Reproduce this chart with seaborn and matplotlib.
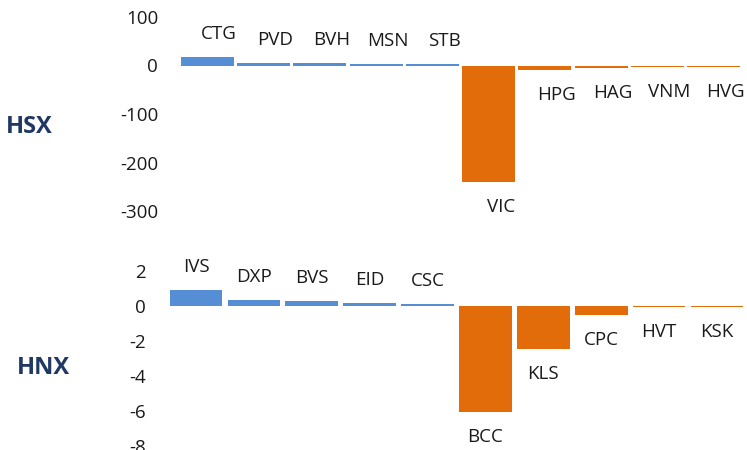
import matplotlib
matplotlib.use("Agg")
import matplotlib.pyplot as plt
import seaborn as sns

# =========================================================
# DATA
# =========================================================
hsx_tickers = ["CTG", "PVD", "BVH", "MSN", "STB", "VIC", "HPG", "HAG", "VNM", "HVG"]
hsx_values = [18, 6, 6, 4, 3.5, -240, -10, -5.5, -2.5, -2.5]
hsx_ticks = [100, 0, -100, -200, -300]

hnx_tickers = ["IVS", "DXP", "BVS", "EID", "CSC", "BCC", "KLS", "CPC", "HVT", "KSK"]
hnx_values = [0.9, 0.33, 0.27, 0.17, 0.1, -6.1, -2.46, -0.52, -0.1, -0.06]
hnx_ticks = [2, 0, -2, -4, -6, -8]

BLUE = "#558ED5"
ORANGE = "#E36C0A"
NAVY = "#1F3864"

sns.set_style("white")
plt.rcParams["font.family"] = ["Open Sans", "DejaVu Sans"]
plt.rcParams["axes.unicode_minus"] = False


# =========================================================
# ONE EXCHANGE PANEL
# =========================================================
def draw_panel(ax, tickers, values, ticks, name, name_xy, bar_width, label_dx):

    colors = [BLUE if v >= 0 else ORANGE for v in values]

    sns.barplot(
        x=tickers, y=values, hue=tickers, palette=colors,
        legend=False, width=bar_width, saturation=1, linewidth=0, ax=ax
    )

    for i, v in enumerate(values):
        dy = 23 if v >= 0 else -25
        ax.annotate(
            tickers[i], (i, v),
            xytext=(label_dx, dy), textcoords="offset pixels",
            ha="center", va="center", fontsize=13.5, color="#1a1a1a"
        )

    ax.set_ylim(ticks[-1], ticks[0])
    ax.set_xlim(-0.5, len(tickers) - 0.5)
    ax.set_yticks(ticks)
    ax.set_yticklabels([str(t) for t in ticks])
    ax.tick_params(axis="y", length=0, pad=15, labelsize=13.5, labelcolor="#1a1a1a")
    ax.set_xticks([])
    ax.set_xlabel("")
    ax.set_ylabel("")
    sns.despine(ax=ax, left=True, bottom=True)

    fig = ax.figure
    fig.text(name_xy[0], name_xy[1], name, ha="center", va="center",
             fontsize=17, fontweight="bold", color=NAVY)


fig = plt.figure(figsize=(7.47, 4.5), dpi=100)

ax_top = fig.add_axes([179 / 747, 1 - 211 / 450, 563 / 747, 194 / 450])
draw_panel(ax_top, hsx_tickers, hsx_values, hsx_ticks, "HSX",
           (29 / 747, 1 - 127 / 450), 0.94, 12)

ax_bot = fig.add_axes([167 / 747, 1 - 445.7 / 450, 579 / 747, 175 / 450])
draw_panel(ax_bot, hnx_tickers, hnx_values, hnx_ticks, "HNX",
           (43 / 747, 1 - 368 / 450), 0.91, 0)

fig.savefig("out.png", dpi=100)
plt.close(fig)
